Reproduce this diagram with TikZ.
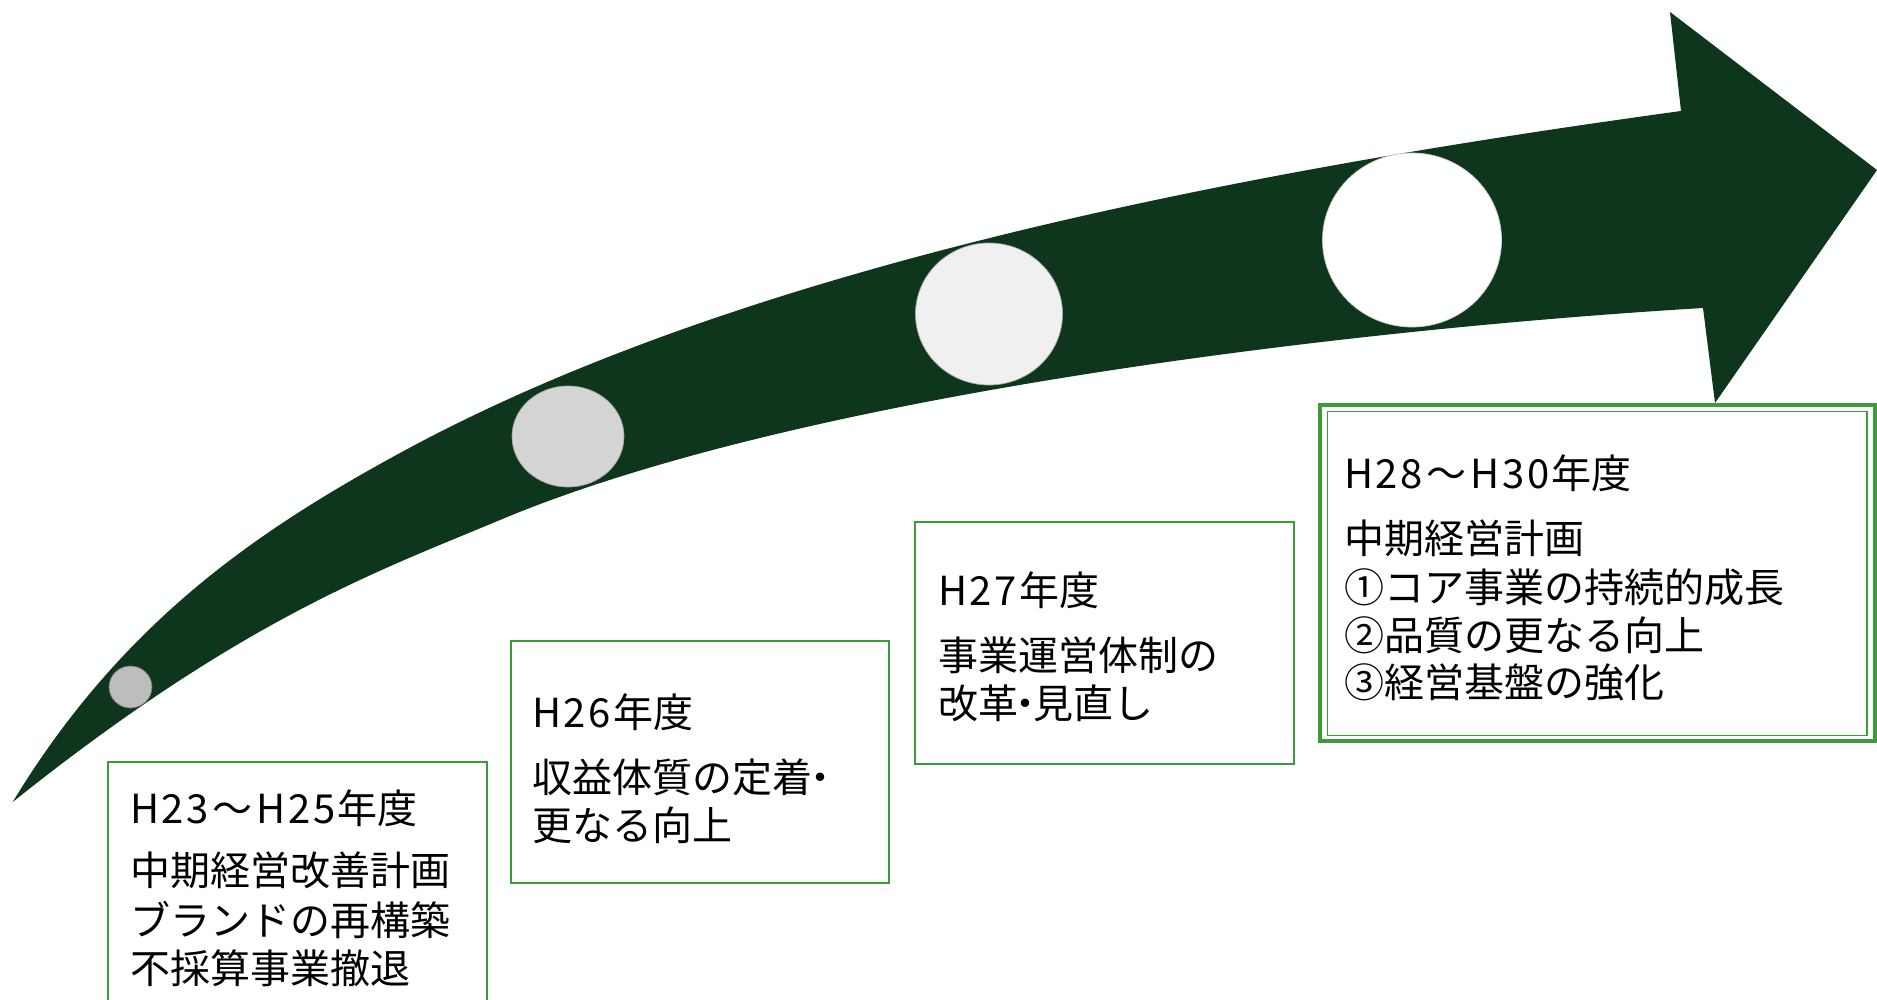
\documentclass[tikz,border=0pt]{standalone}
\usepackage{fontspec}
\setmainfont{Noto Sans CJK JP}
\newfontfamily\jpfont{Noto Sans CJK JP}
\usetikzlibrary{shapes.geometric}
\definecolor{arrowgreen}{HTML}{0D361D}
\definecolor{boxgreen}{HTML}{3E9B3A}
\newcommand\nkdot{\kern-0.31em・\kern-0.31em}
\newcommand\wv{\kern4pt～\kern4pt}
\newcommand\lk{\kern2.5pt{}}
\begin{document}
\begin{tikzpicture}[x=1pt,y=-1pt,
  stagebox/.style={draw=boxgreen, line width=1.8pt, fill=none},
  dot/.style={ellipse, inner sep=0pt, draw=gray!70, line width=0.7pt},
  txt/.style={anchor=west, inner sep=0pt, font=\jpfont\fontsize{40}{48}\selectfont, text=black}]
\useasboundingbox (0,0) rectangle (1877,1000);
\fill[white] (0,0) rectangle (1877,1000);

% curved arrow
\fill[arrowgreen] (12.7,802) .. controls (122.7,620.5) and (260,529.3) .. (400,453)
  .. controls (740,267.7) and (1231,172.7) .. (1681,111)
  -- (1670,12) -- (1877,170) -- (1715,403) -- (1703,308)
  .. controls (1353,329) and (800,394) .. (500,520)
  .. controls (380,570.4) and (242.7,618) .. (12.7,802) -- cycle;

% milestones
\node[dot, fill=black!26, draw=black!55, minimum width=43pt, minimum height=42pt] (c1) at (130.5,687) {};
\node[dot, fill=black!17, minimum width=112pt, minimum height=101pt] (c2) at (568,436.5) {};
\node[dot, fill=black!6, minimum width=147pt, minimum height=142pt] (c3) at (989,314) {};
\node[dot, fill=white, draw=gray!40, minimum width=179pt, minimum height=174pt] (c4) at (1412,240) {};

% boxes
\draw[stagebox] (108,762) rectangle (487,1010);
\draw[stagebox] (511,641) rectangle (889,883);
\draw[stagebox] (915,522) rectangle (1294,764);
\draw[draw=boxgreen, line width=4pt] (1320,405) rectangle (1875,741);
\draw[draw=boxgreen, line width=1.8pt] (1327.5,411.5) rectangle (1867,735.5);

% texts box 1
\node[txt] (t1a) at (130,808) {H\lk 2\lk 3\wv H\lk 2\lk 5\lk 年度};
\node[txt] (t1b) at (130,870) {中期経営改善計画};
\node[txt] (t1c) at (130,920) {ブランドの再構築};
\node[txt] (t1d) at (130,968) {不採算事業撤退};
% box 2
\node[txt] (t2a) at (532,712) {H\lk 2\lk 6\lk 年度};
\node[txt] (t2b) at (532,777) {収益体質の定着\kern-0.3em・};
\node[txt] (t2c) at (532,825) {更なる向上};
% box 3
\node[txt] (t3a) at (938,590) {H\lk 2\lk 7\lk 年度};
\node[txt] (t3b) at (938,655) {事業運営体制の};
\node[txt] (t3c) at (938,703) {改革\nkdot 見直し};
% box 4
\node[txt] (t4a) at (1344,473) {H\lk 2\lk 8\wv H\lk 3\lk 0\lk 年度};
\node[txt] (t4b) at (1344,538) {中期経営計画};
\node[txt] (t4c) at (1344,587) {①コア事業の持続的成長};
\node[txt] (t4d) at (1344,635) {②品質の更なる向上};
\node[txt] (t4e) at (1344,682) {③経営基盤の強化};
\end{tikzpicture}
\end{document}
